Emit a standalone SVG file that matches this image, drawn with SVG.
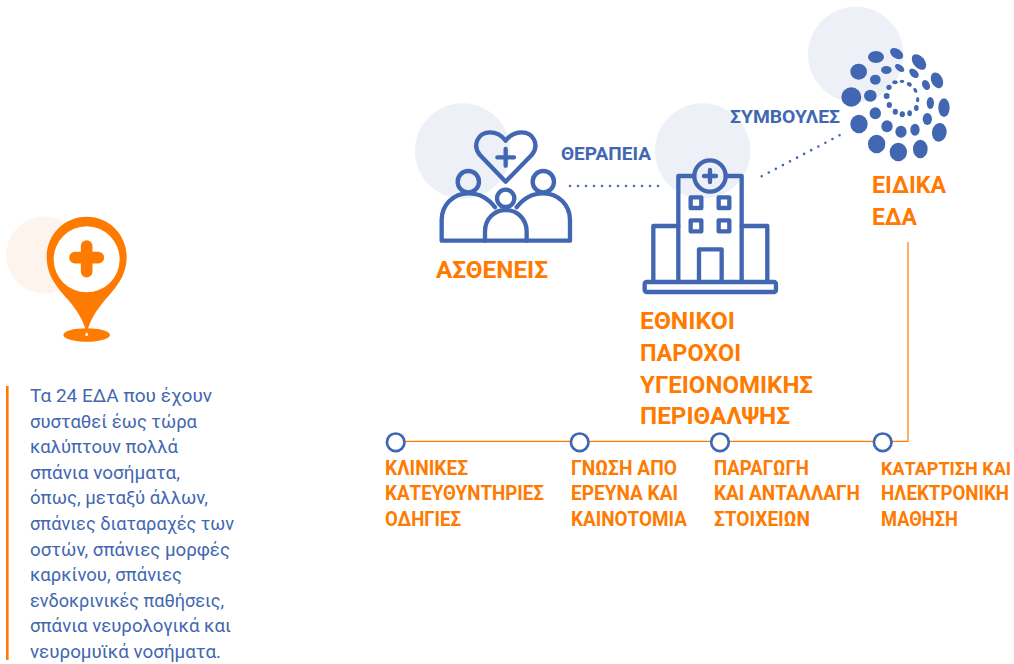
<svg xmlns="http://www.w3.org/2000/svg" width="1014" height="664" viewBox="0 0 1014 664">
<style>
text{font-family:Roboto,"Liberation Sans",sans-serif}
.o{font-weight:700;fill:#ff7a00}
.s{font-size:19.6px}.g{font-size:24.6px}
.l{font-weight:700;fill:#4267b2;font-size:19px}
.body{font-weight:400;fill:#4267b2;font-size:18px}
.bg{fill:#edf0f7}
.ic{fill:none;stroke:#4267b2;stroke-width:13;stroke-linejoin:round;stroke-linecap:round}
.d{fill:#4267b2}
.n{fill:#fff;stroke:#4267b2;stroke-width:2.7}
.dot{fill:none;stroke:#4267b2;stroke-width:2.6;stroke-linecap:round;stroke-dasharray:0 8}
</style>
<g id="pin">
<circle cx="44.7" cy="255" r="38.5" fill="#fdf4ee"/>
<g transform="translate(0,205) scale(.3333)">
<ellipse cx="260" cy="390" rx="70" ry="20" fill="#ff7a00"/>
<path d="M260 378L265 392H255Z" fill="#fff"/>
<path d="M260 35C192 35 140 90 140 155C140 215 175 250 205 285C232 318 250 345 260 385C270 345 288 318 315 285C345 250 380 215 380 155C380 90 328 35 260 35Z" fill="#ff7a00"/>
<circle cx="260" cy="163" r="99" fill="#fff"/>
<path d="M260 123V200M225 158H295" stroke="#ff7a00" stroke-width="35" stroke-linecap="round"/>
</g>
</g>
<g id="note">
<rect x="6" y="386" width="2.6" height="274" fill="#ff7a00"/>
<text class="body" x="30" y="402" textLength="182" lengthAdjust="spacingAndGlyphs">Τα 24 ΕΔΑ που έχουν</text>
<text class="body" x="30" y="427.6" textLength="167" lengthAdjust="spacingAndGlyphs">συσταθεί έως τώρα</text>
<text class="body" x="30" y="453.2" textLength="148" lengthAdjust="spacingAndGlyphs">καλύπτουν πολλά</text>
<text class="body" x="30" y="478.8" textLength="150" lengthAdjust="spacingAndGlyphs">σπάνια νοσήματα,</text>
<text class="body" x="30" y="504.4" textLength="178" lengthAdjust="spacingAndGlyphs">όπως, μεταξύ άλλων,</text>
<text class="body" x="30" y="530" textLength="204" lengthAdjust="spacingAndGlyphs">σπάνιες διαταραχές των</text>
<text class="body" x="30" y="555.6" textLength="200" lengthAdjust="spacingAndGlyphs">οστών, σπάνιες μορφές</text>
<text class="body" x="30" y="581.2" textLength="152" lengthAdjust="spacingAndGlyphs">καρκίνου, σπάνιες</text>
<text class="body" x="30" y="606.8" textLength="194" lengthAdjust="spacingAndGlyphs">ενδοκρινικές παθήσεις,</text>
<text class="body" x="30" y="632.4" textLength="201" lengthAdjust="spacingAndGlyphs">σπάνια νευρολογικά και</text>
<text class="body" x="30" y="658" textLength="191" lengthAdjust="spacingAndGlyphs">νευρομυϊκά νοσήματα.</text>
</g>
<g id="connectors">
<path d="M396 441.3H908V242" fill="none" stroke="#ff7a00" stroke-width="1.2"/>
<path class="dot" d="M570 186H658.5"/>
<path class="dot" d="M761.7 176.3L840 135"/>
</g>
<g id="patients">
<circle class="bg" cx="462.7" cy="151" r="47.7"/>
<g transform="translate(400,90) scale(.3333)" class="ic">
<path d="M317 275L240 195C215 165 235 127 270 127C292 127 308 140 317 152C326 140 342 127 365 127C400 127 420 165 395 195Z"/>
<path d="M292 202H342M317 177V227"/>
<circle cx="205" cy="275" r="32"/><circle cx="430" cy="275" r="32"/><circle cx="317" cy="325" r="26"/>
<path d="M285 352C265 325 240 310 205 310C160 310 125 345 125 390V452H510V390C510 345 475 310 430 310C395 310 370 325 350 352"/>
<path d="M255 452V425C255 385 285 360 317 360C350 360 380 385 380 425V452"/>
</g>
<text class="o g" x="436" y="277.7" textLength="112" lengthAdjust="spacingAndGlyphs">ΑΣΘΕΝΕΙΣ</text>
</g>
<g id="therapy"><text class="l" x="561" y="160" textLength="90" lengthAdjust="spacingAndGlyphs">ΘΕΡΑΠΕΙΑ</text></g>
<g id="hospital">
<circle class="bg" cx="702.7" cy="151" r="47.7"/>
<g transform="translate(630,90) scale(.3333)" class="ic">
<path d="M145 575V258H192M288 258H335V575"/>
<circle cx="240" cy="258" r="47"/>
<path d="M222 258H258M240 240V276"/>
<rect x="182" y="322" width="32" height="32"/><rect x="266" y="322" width="32" height="32"/>
<rect x="182" y="391" width="32" height="33"/><rect x="266" y="391" width="32" height="33"/>
<path d="M207 575V478H275V575"/>
<path d="M145 408H70V575M335 408H412V575"/>
<rect x="44" y="576" width="394" height="30" rx="6"/>
</g>
<text class="o g" x="640" y="329" textLength="95" lengthAdjust="spacingAndGlyphs">ΕΘΝΙΚΟΙ</text>
<text class="o g" x="640" y="361" textLength="101" lengthAdjust="spacingAndGlyphs">ΠΑΡΟΧΟΙ</text>
<text class="o g" x="640" y="393" textLength="173" lengthAdjust="spacingAndGlyphs">ΥΓΕΙΟΝΟΜΙΚΗΣ</text>
<text class="o g" x="640" y="424" textLength="150" lengthAdjust="spacingAndGlyphs">ΠΕΡΙΘΑΛΨΗΣ</text>
</g>
<g id="advice"><text class="l" x="730" y="123" textLength="110" lengthAdjust="spacingAndGlyphs">ΣΥΜΒΟΥΛΕΣ</text></g>
<g id="ern">
<circle class="bg" cx="855.7" cy="54.5" r="47.7"/>
<g transform="translate(800,10) scale(.3333)" class="d">
<ellipse cx="228" cy="141" rx="24" ry="18"/>
<ellipse rx="22" ry="14" transform="translate(290,131) rotate(35)"/>
<ellipse rx="27" ry="17" transform="translate(357,156) rotate(50)"/>
<ellipse rx="25" ry="17" transform="translate(411,211) rotate(65)"/>
<ellipse cx="432" cy="293" rx="17" ry="28"/>
<ellipse rx="22" ry="28" transform="translate(418,367) rotate(8)"/>
<ellipse cx="361" cy="417" rx="22" ry="28"/>
<ellipse cx="295" cy="426" rx="26" ry="28"/>
<ellipse cx="230" cy="402" rx="26" ry="28"/>
<ellipse cx="177" cy="342" rx="26" ry="28"/>
<ellipse cx="154" cy="261" rx="30" ry="29"/>
<ellipse cx="176" cy="185" rx="25" ry="24"/>
<ellipse cx="259" cy="180" rx="16" ry="12"/>
<ellipse rx="16" ry="9" transform="translate(299,174) rotate(35)"/>
<ellipse rx="17" ry="11" transform="translate(342,190) rotate(45)"/>
<ellipse rx="16" ry="11" transform="translate(378,225) rotate(65)"/>
<ellipse cx="391" cy="279" rx="11" ry="18"/>
<ellipse cx="382" cy="327" rx="14" ry="18"/>
<ellipse cx="345" cy="359" rx="14" ry="18"/>
<ellipse cx="303" cy="365" rx="17" ry="18"/>
<ellipse cx="261" cy="349" rx="17" ry="18"/>
<ellipse cx="226" cy="310" rx="17" ry="18"/>
<ellipse cx="211" cy="257" rx="19" ry="18"/>
<ellipse cx="226" cy="209" rx="16" ry="15"/>
<circle cx="267" cy="232" r="8"/><ellipse cx="285" cy="217" rx="8" ry="6"/><ellipse cx="306" cy="214" rx="7" ry="5"/>
<ellipse rx="8" ry="6" transform="translate(328,223) rotate(30)"/><ellipse rx="5" ry="8" transform="translate(346,241) rotate(-30)"/>
<ellipse cx="353" cy="269" rx="5" ry="8"/><ellipse cx="349" cy="294" rx="7" ry="9"/><ellipse cx="329" cy="310" rx="7" ry="9"/>
<ellipse cx="307" cy="313" rx="8" ry="9"/><ellipse cx="286" cy="305" rx="8" ry="9"/><ellipse cx="268" cy="285" rx="8" ry="9"/><circle cx="260" cy="258" r="9"/>
</g>
<text class="o g" x="872" y="193" textLength="74" lengthAdjust="spacingAndGlyphs">ΕΙΔΙΚΑ</text>
<text class="o g" x="872" y="225" textLength="45" lengthAdjust="spacingAndGlyphs">ΕΔΑ</text>
</g>
<g id="guidelines"><circle class="n" cx="395.7" cy="442.3" r="8.8"/>
<text class="o s" x="385" y="475.4" textLength="83" lengthAdjust="spacingAndGlyphs">ΚΛΙΝΙΚΕΣ</text>
<text class="o s" x="385" y="500.4" textLength="159" lengthAdjust="spacingAndGlyphs">ΚΑΤΕΥΘΥΝΤΗΡΙΕΣ</text>
<text class="o s" x="385" y="525.8" textLength="76" lengthAdjust="spacingAndGlyphs">ΟΔΗΓΙΕΣ</text></g>
<g id="research"><circle class="n" cx="579.7" cy="442.3" r="8.8"/>
<text class="o s" x="571" y="475.4" textLength="106" lengthAdjust="spacingAndGlyphs">ΓΝΩΣΗ ΑΠΟ</text>
<text class="o s" x="571" y="500.4" textLength="107" lengthAdjust="spacingAndGlyphs">ΕΡΕΥΝΑ ΚΑΙ</text>
<text class="o s" x="571" y="525.8" textLength="116" lengthAdjust="spacingAndGlyphs">ΚΑΙΝΟΤΟΜΙΑ</text></g>
<g id="data"><circle class="n" cx="720" cy="442.3" r="8.8"/>
<text class="o s" x="714" y="475.4" textLength="95" lengthAdjust="spacingAndGlyphs">ΠΑΡΑΓΩΓΗ</text>
<text class="o s" x="714" y="500.4" textLength="146" lengthAdjust="spacingAndGlyphs">ΚΑΙ ΑΝΤΑΛΛΑΓΗ</text>
<text class="o s" x="714" y="525.8" textLength="96" lengthAdjust="spacingAndGlyphs">ΣΤΟΙΧΕΙΩΝ</text></g>
<g id="training"><circle class="n" cx="882.7" cy="442.3" r="8.8"/>
<text class="o" style="font-size:18.6px" x="881" y="475.2" textLength="130" lengthAdjust="spacingAndGlyphs">ΚΑΤΑΡΤΙΣΗ ΚΑΙ</text>
<text class="o s" x="881" y="500.4" textLength="128" lengthAdjust="spacingAndGlyphs">ΗΛΕΚΤΡΟΝΙΚΗ</text>
<text class="o s" x="881" y="525.8" textLength="77" lengthAdjust="spacingAndGlyphs">ΜΑΘΗΣΗ</text></g>
</svg>
